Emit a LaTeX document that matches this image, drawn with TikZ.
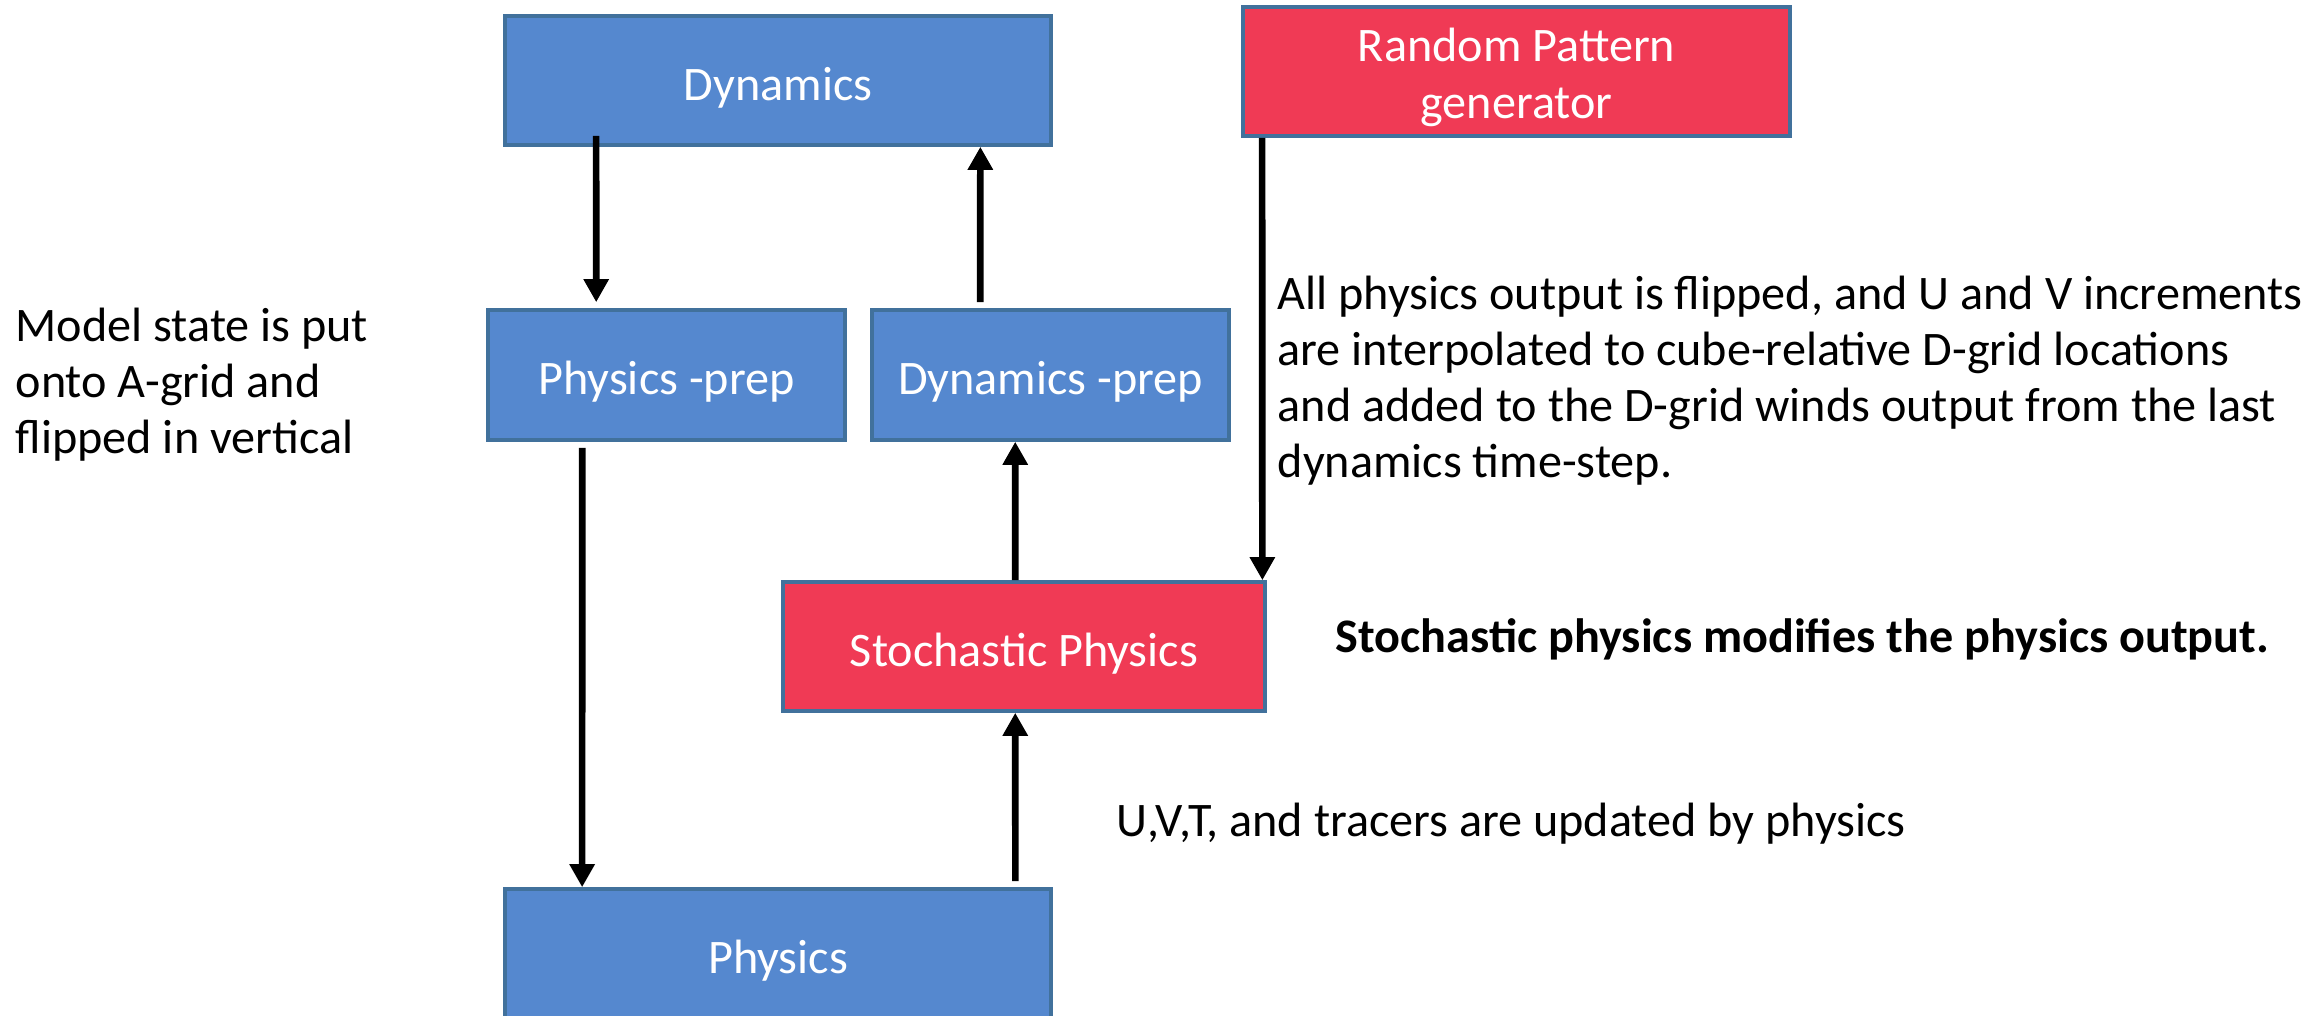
\documentclass[tikz,border=0pt]{standalone}
\usepackage{fontspec}
\setmainfont{Carlito}
\usepackage{tikz}
\usetikzlibrary{
  positioning,
  arrows.meta
}
\definecolor{boxblue}{HTML}{5588CF}
\definecolor{boxred}{HTML}{F03A55}
\definecolor{boxedge}{HTML}{41719C}
\tikzstyle{flow}=[line width=1.9pt, -{Triangle[length=0.23cm, width=0.24cm]}]
\tikzstyle{bluebox}=[draw=boxedge, line width=1pt, fill=boxblue, text=white, inner sep=0pt,
                     text height=0.5cm, text depth=0.11cm]
\tikzstyle{redbox}=[bluebox, fill=boxred]
\tikzstyle{note}=[inner sep=0pt, anchor=base west, align=left]

\begin{document}
\begin{tikzpicture}[x=0.01cm, y=-0.01cm, font=\fontsize{13.7}{15.95}\selectfont]
    \clip (0,0) rectangle (2317,1016);

    % ブロック
    \node[bluebox, minimum width=5.46cm, minimum height=1.29cm] (dyn) at (778,80.5) {Dynamics};
    \node[redbox, minimum width=5.47cm, minimum height=1.29cm] (rpg) at (1516.5,71.5) {};
    \node[inner sep=0pt, anchor=base, align=center, text=white] (rpgtext) at ([yshift=-0.465cm]rpg.center) {Random Pattern\\generator};
    \node[bluebox, minimum width=3.57cm, minimum height=1.30cm] (ppr) at (666.5,375) {Physics -prep};
    \node[bluebox, minimum width=3.57cm, minimum height=1.30cm] (dpr) at (1050.5,375) {Dynamics -prep};
    \node[redbox, minimum width=4.82cm, minimum height=1.29cm] (sto) at (1024,646.5) {Stochastic Physics};
    \node[bluebox, minimum width=5.46cm, minimum height=1.30cm] (phy) at (778,954) {Physics};

    % 矢印
    \draw[flow] ([xshift=0.93cm, yshift=0.11cm]dyn.south west) -- ([xshift=1.10cm, yshift=0.06cm]ppr.north west);
    \draw[flow] ([xshift=1.10cm, yshift=0.06cm]dpr.north west) -- ([xshift=4.77cm]dyn.south west);
    \draw[flow] ([xshift=0.21cm]rpg.south west) -- ([xshift=4.81cm]sto.north west);
    \draw[flow] ([xshift=2.34cm]sto.north west) -- ([xshift=1.45cm]dpr.south west);
    \draw[flow] ([xshift=0.96cm, yshift=-0.06cm]ppr.south west) -- ([xshift=0.79cm]phy.north west);
    \draw[flow] ([xshift=5.12cm, yshift=0.06cm]phy.north west) -- ([xshift=2.34cm]sto.south west);

    % 説明文
    \node[note] (state) at (15,454) {Model state is put\\onto A-grid and\\flipped in vertical};
    \node[note] (flip) at (1277,478) {All physics output is flipped, and U and V increments\\are interpolated to cube-relative D-grid locations\\and added to the D-grid winds output from the last\\dynamics time-step.};
    \node[note, font=\fontsize{13.7}{15.95}\selectfont\bfseries] (modify) at (1335,653) {Stochastic physics modifies the physics output.};
    \node[note] (update) at (1116,837) {U,V,T, and tracers are updated by physics};
\end{tikzpicture}
\end{document}
